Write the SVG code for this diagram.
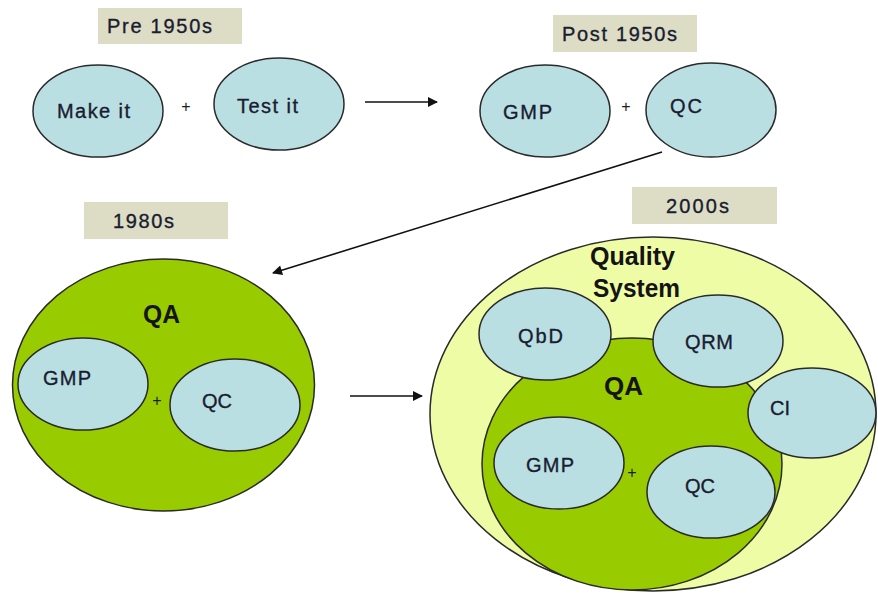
<svg xmlns="http://www.w3.org/2000/svg" width="878" height="594" viewBox="0 0 878 594">
<style>
.bg{fill:#ffffff}
.box{fill:#dddcc5}
.bub{fill:#b9dfe3;stroke:#2a2a2a;stroke-width:1.5}
.grn{fill:#99cc00;stroke:#2a2a2a;stroke-width:1.5}
.yel{fill:#effca6;stroke:#2a2a2a;stroke-width:1.5}
.t{font-family:"Liberation Sans",Arial,sans-serif;font-size:20px;fill:#1a1c30;stroke:#1a1c30;stroke-width:0.35}
.b{font-family:"Liberation Sans",Arial,sans-serif;font-weight:bold;fill:#141414}
.plus{font-family:"Liberation Sans",Arial,sans-serif;font-size:16px;fill:#1a1c30;text-anchor:middle}
.con{stroke:#111;stroke-width:1.6;fill:none}
</style>
<defs>
<marker id="ah" viewBox="0 0 10 10" refX="9" refY="5" markerWidth="11" markerHeight="10" markerUnits="userSpaceOnUse" orient="auto">
<path d="M0,0 L10,5 L0,10 z" fill="#111"/>
</marker>
</defs>
<rect class="bg" x="0" y="0" width="878" height="594"/>

<g id="era-pre1950">
<rect class="box" x="98" y="8" width="144" height="36"/>
<text class="t" x="107" y="33" textLength="105" lengthAdjust="spacing">Pre 1950s</text>
</g>
<g id="make-it">
<ellipse class="bub" cx="98" cy="111" rx="65" ry="46"/>
<text class="t" x="57" y="118" textLength="73" lengthAdjust="spacing">Make it</text>
</g>
<text class="plus" x="186" y="112">+</text>
<g id="test-it">
<ellipse class="bub" cx="279" cy="104" rx="65" ry="46"/>
<text class="t" x="237" y="113" textLength="61" lengthAdjust="spacing">Test it</text>
</g>

<g id="era-post1950">
<rect class="box" x="553" y="15" width="144" height="37"/>
<text class="t" x="562" y="41" textLength="115" lengthAdjust="spacing">Post 1950s</text>
</g>
<g id="gmp-post">
<ellipse class="bub" cx="545" cy="111" rx="65" ry="46"/>
<text class="t" x="503" y="119" textLength="49" lengthAdjust="spacing">GMP</text>
</g>
<text class="plus" x="626" y="112">+</text>
<g id="qc-post">
<ellipse class="bub" cx="711" cy="110" rx="65" ry="47"/>
<text class="t" x="670" y="113" textLength="32" lengthAdjust="spacing">QC</text>
</g>

<g id="era-1980">
<rect class="box" x="84" y="202" width="144" height="37"/>
<text class="t" x="113" y="228" textLength="61" lengthAdjust="spacing">1980s</text>
</g>
<g id="qa-1980">
<ellipse class="grn" cx="163.5" cy="385" rx="151" ry="126"/>
<text class="b" x="143" y="323" font-size="25" textLength="37" lengthAdjust="spacingAndGlyphs">QA</text>
</g>
<g id="gmp-1980">
<ellipse class="bub" cx="83" cy="384" rx="65" ry="46"/>
<text class="t" x="43" y="385" textLength="48" lengthAdjust="spacing">GMP</text>
</g>
<text class="plus" x="157" y="406">+</text>
<g id="qc-1980">
<ellipse class="bub" cx="235" cy="405" rx="65" ry="46"/>
<text class="t" x="202" y="408" textLength="30" lengthAdjust="spacing">QC</text>
</g>

<g id="era-2000">
<rect class="box" x="632" y="187" width="145" height="37"/>
<text class="t" x="666" y="213" textLength="63" lengthAdjust="spacing">2000s</text>
</g>
<g id="quality-system">
<ellipse class="yel" cx="653" cy="414" rx="223" ry="177"/>
<text class="b" x="590" y="265" font-size="26" textLength="85" lengthAdjust="spacingAndGlyphs">Quality</text>
<text class="b" x="593" y="297" font-size="26" textLength="87" lengthAdjust="spacingAndGlyphs">System</text>
</g>
<g id="qa-2000">
<ellipse class="grn" cx="632" cy="464" rx="150" ry="126"/>
<text class="b" x="604" y="395" font-size="25" textLength="39" lengthAdjust="spacingAndGlyphs">QA</text>
</g>
<g id="qbd">
<ellipse class="bub" cx="545" cy="334" rx="66" ry="46"/>
<text class="t" x="518" y="343" textLength="45" lengthAdjust="spacing">QbD</text>
</g>
<g id="qrm">
<ellipse class="bub" cx="718" cy="341" rx="65" ry="46"/>
<text class="t" x="685" y="349" textLength="48" lengthAdjust="spacing">QRM</text>
</g>
<g id="ci">
<ellipse class="bub" cx="812" cy="413" rx="64" ry="45"/>
<text class="t" x="770" y="415" textLength="20" lengthAdjust="spacing">CI</text>
</g>
<g id="gmp-2000">
<ellipse class="bub" cx="559" cy="463" rx="65" ry="46"/>
<text class="t" x="526" y="472" textLength="48" lengthAdjust="spacing">GMP</text>
</g>
<text class="plus" x="632" y="478">+</text>
<g id="qc-2000">
<ellipse class="bub" cx="711" cy="492" rx="64" ry="46"/>
<text class="t" x="685" y="493" textLength="30" lengthAdjust="spacing">QC</text>
</g>

<g id="connectors">
<line class="con" x1="365" y1="102" x2="437" y2="102" marker-end="url(#ah)"/>
<line class="con" x1="662" y1="152" x2="273" y2="273" marker-end="url(#ah)"/>
<line class="con" x1="350" y1="396" x2="422" y2="396" marker-end="url(#ah)"/>
</g>
</svg>
